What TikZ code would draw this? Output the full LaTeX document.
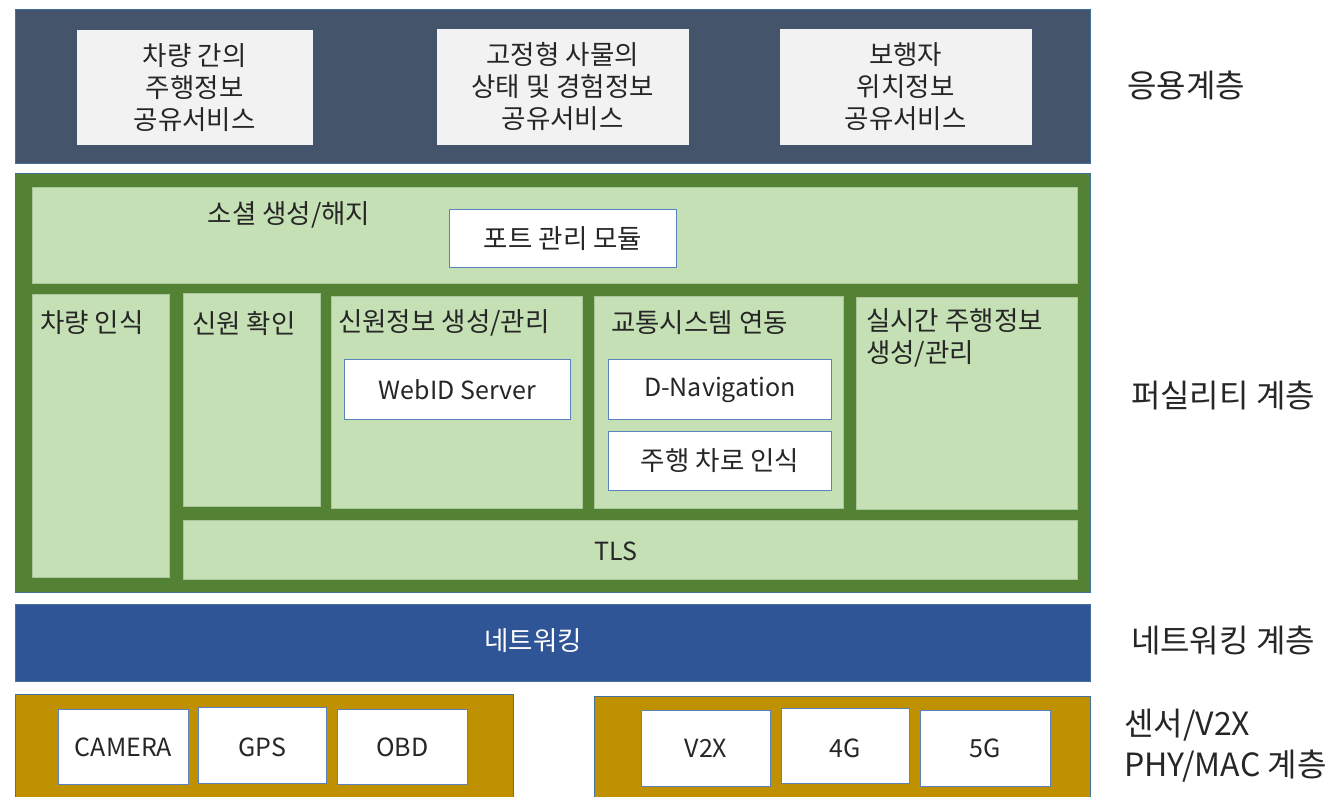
\documentclass[tikz,border=0pt]{standalone}
\usepackage{fontspec}
\setmainfont{Noto Sans CJK KR}
\definecolor{appbg}{HTML}{44546A}
\definecolor{appbox}{HTML}{F2F2F2}
\definecolor{facbg}{HTML}{548235}
\definecolor{facbox}{HTML}{C5E0B4}
\definecolor{netbg}{HTML}{2F5597}
\definecolor{sensbg}{HTML}{BF9000}
\definecolor{bandline}{HTML}{41719C}
\definecolor{wline}{HTML}{5B82BE}
\definecolor{gline}{HTML}{A9C79A}
\definecolor{txt}{HTML}{262626}
\tikzset{
  sz/.style 2 args={minimum width=#1pt, minimum height=#2pt},
  band/.style={draw=bandline, line width=0.8pt, anchor=north west, inner sep=0pt},
  appcell/.style={fill=appbox, draw=appbox, anchor=north west, inner sep=0pt},
  faccell/.style={fill=facbox, draw=gline, line width=0.8pt, anchor=north west, inner sep=0pt},
  wcell/.style={fill=white, draw=wline, line width=1pt, anchor=north west, inner sep=0pt},
  lbl/.style={text=txt, font=\fontsize{25}{32}\selectfont, align=center, inner sep=0pt},
  klbl/.style={lbl, font=\fontsize{26.5}{32}\selectfont},
  side/.style={text=txt, font=\fontsize{32}{41}\selectfont, inner sep=0pt},
}
\begin{document}
\begin{tikzpicture}[x=1pt,y=-1pt]
\useasboundingbox (0,0) rectangle (1338,796);
% application layer
\node[band, fill=appbg, sz={1075}{154}] (app) at (15,9) {};
\node[appcell, sz={235}{114}] (a1) at (77,30) {};
\node[appcell, sz={251}{115}] (a2) at (437,29) {};
\node[appcell, sz={251}{115}] (a3) at (780,29) {};
\node[klbl] at (a1.center) {차량 간의\\주행정보\\공유서비스};
\node[klbl] at (a2.center) {고정형 사물의\\상태 및 경험정보\\공유서비스};
\node[klbl] at (a3.center) {보행자\\위치정보\\공유서비스};
% facility layer
\node[band, fill=facbg, sz={1075}{419}] (fac) at (15,173) {};
\node[faccell, sz={1045}{96}] (sock) at (32,187) {};
\node[klbl] (socklbl) at (289,215) {소셜 생성/해지};
\node[wcell, sz={227}{58}] (port) at (449,209) {};
\node[klbl] at (port.center) {포트 관리 모듈};
\node[faccell, sz={137}{283}] (veh) at (32,294) {};
\node[klbl, anchor=west] at (40,323) {차량 인식};
\node[faccell, sz={137}{213}] (id) at (183,293) {};
\node[klbl, anchor=west] at (192,323) {신원 확인};
\node[faccell, sz={251}{212}] (idm) at (331,296) {};
\node[klbl, anchor=west] at (338,323) {신원정보 생성/관리};
\node[wcell, sz={226}{60}] (web) at (344,359) {};
\node[lbl] at (web.center) {WebID Server};
\node[faccell, sz={249}{212}] (traf) at (594,296) {};
\node[klbl, anchor=west] at (611,323) {교통시스템 연동};
\node[wcell, sz={223}{60}] (dnav) at (608,359) {};
\node[lbl] at (dnav.center) {D-Navigation};
\node[wcell, sz={223}{59}] (lane) at (608,431) {};
\node[klbl] at (lane.center) {주행 차로 인식};
\node[faccell, sz={221}{212}] (rt) at (856,297) {};
\node[klbl, anchor=north west, align=left] at (866,308) {실시간 주행정보\\생성/관리};
\node[faccell, sz={894}{59}] (tls) at (183,520) {};
\node[lbl] at (616,551) {TLS};
% networking layer
\node[band, fill=netbg, sz={1075}{77}] (net) at (15,604) {};
\node[klbl, text=white] at (533,641) {네트워킹};
% sensor / PHY layer
\node[band, fill=sensbg, sz={498}{110}] (sensl) at (15,694) {};
\node[band, fill=sensbg, sz={496}{108}] (sensr) at (594,696) {};
\node[wcell, sz={130}{75}] (cam) at (58,709) {};
\node[lbl] at (cam.center) {CAMERA};
\node[wcell, sz={128}{76}] (gps) at (198,707) {};
\node[lbl] at ([yshift=-2pt]gps.center) {GPS};
\node[wcell, sz={130}{75}] (obd) at (337,709) {};
\node[lbl] at (obd.center) {OBD};
\node[wcell, sz={129}{76}] (v2x) at (641,710) {};
\node[lbl] at (v2x.center) {V2X};
\node[wcell, sz={128}{75}] (g4) at (781,708) {};
\node[lbl] at ([yshift=-2pt]g4.center) {4G};
\node[wcell, sz={130}{76}] (g5) at (920,710) {};
\node[lbl] at (g5.center) {5G};
% side labels
\node[side] at (1186,85) {응용계층};
\node[side] at (1223,395) {퍼실리티 계층};
\node[side] at (1223,640) {네트워킹 계층};
\node[side, anchor=west] at (1124,725) {센서/V2X};
\node[side, anchor=west] at (1124,766) {PHY/MAC 계층};
\end{tikzpicture}
\end{document}
